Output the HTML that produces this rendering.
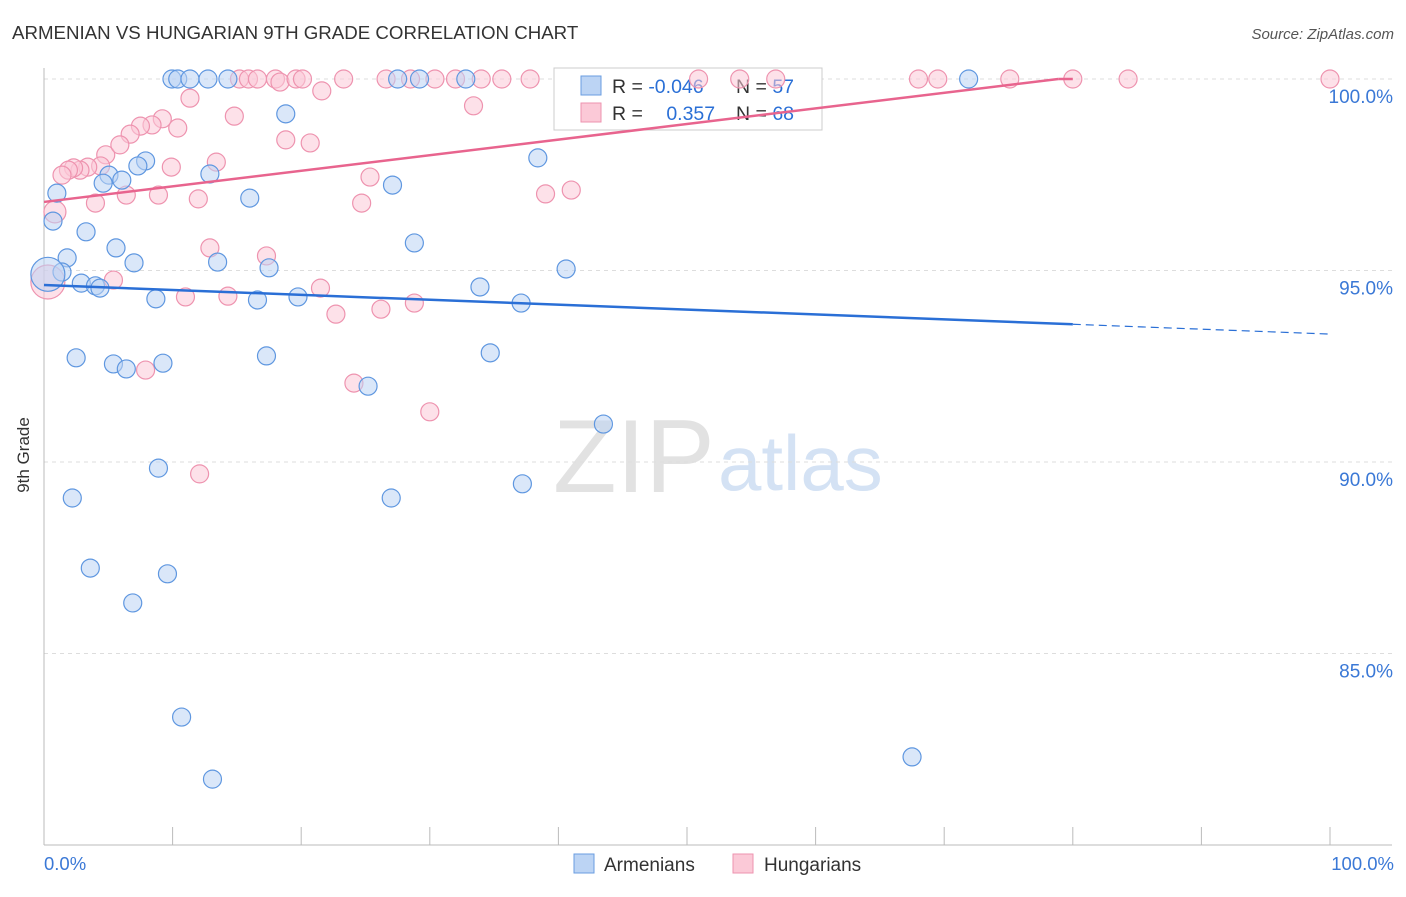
<!DOCTYPE html>
<html><head><meta charset="utf-8">
<style>
body{margin:0;background:#fff;font-family:"Liberation Sans",sans-serif;}
svg text{font-family:"Liberation Sans",sans-serif;}
</style></head>
<body>
<svg id="chart" width="1406" height="892" xmlns="http://www.w3.org/2000/svg">
<text x="12" y="39" font-size="18.7" fill="#333">ARMENIAN VS HUNGARIAN 9TH GRADE CORRELATION CHART</text>
<text x="1394" y="39" font-size="15" fill="#555" font-style="italic" text-anchor="end">Source: ZipAtlas.com</text>
<text x="29" y="455" font-size="17" fill="#333" transform="rotate(-90 29 455)" text-anchor="middle">9th Grade</text>
<text x="553" y="492" font-size="104" fill="#e2e2e2" font-family="Liberation Serif">ZIP</text>
<text x="718" y="490" font-size="78" fill="#d4e2f4">atlas</text>
<g id="grid"></g><g id="axes"></g>
<g>
<rect x="554" y="68" width="268" height="62" fill="#fff" stroke="#ccc"/>
<rect x="581" y="76" width="20" height="19" fill="#bcd4f4" stroke="#6a9de0"/>
<rect x="581" y="103" width="20" height="19" fill="#fbc9d7" stroke="#ee93af"/>
<text x="612" y="93" font-size="19.5" fill="#333">R = <tspan fill="#2a6fd6">-0.046</tspan></text>
<text x="736" y="93" font-size="19.5" fill="#333">N = <tspan fill="#2a6fd6">57</tspan></text>
<text x="612" y="120" font-size="19.5" fill="#333">R = <tspan fill="#2a6fd6" dx="18">0.357</tspan></text>
<text x="736" y="120" font-size="19.5" fill="#333">N = <tspan fill="#2a6fd6">68</tspan></text>
</g>
<g id="pts"></g><g id="lines"></g>
<g>
<rect x="574" y="854" width="20" height="19" fill="#bcd4f4" stroke="#6a9de0"/>
<text x="604" y="871" font-size="19" fill="#333">Armenians</text>
<rect x="733" y="854" width="20" height="19" fill="#fbc9d7" stroke="#ee93af"/>
<text x="764" y="871" font-size="19" fill="#333">Hungarians</text>
</g>
</svg>
<script>
const blueX=[9.95,10.4,11.35,12.75,14.3,27.5,29.2,32.8,71.9,18.8,38.4,7.9,7.3,5.05,4.6,6.05,12.9,27.1,1.0,16.0,0.7,3.27,5.6,28.8,1.8,7.0,13.5,17.5,40.6,1.4,2.9,4.0,4.35,33.9,8.7,16.6,19.75,37.1,2.5,5.4,6.4,9.25,17.3,34.7,25.2,43.5,8.9,2.2,27.0,37.2,3.6,9.6,6.9,10.7,13.1,67.5,0.3];
const blueY=[100,100,100,100,100,100,100,100,100,99.09,97.94,97.86,97.73,97.49,97.28,97.36,97.52,97.23,97.02,96.89,96.29,96.01,95.59,95.72,95.33,95.2,95.22,95.07,95.04,94.96,94.67,94.6,94.54,94.57,94.26,94.23,94.31,94.15,92.72,92.56,92.43,92.58,92.77,92.85,91.98,90.99,89.84,89.06,89.06,89.43,87.23,87.08,86.32,83.34,81.72,82.3,94.9];
const pinkX=[15.2,15.9,16.6,18.0,18.35,19.6,20.1,23.3,26.6,28.5,30.4,32.0,34.0,35.6,37.8,50.9,54.1,56.9,68.0,69.5,75.1,80.0,84.3,100,11.35,21.6,33.4,14.8,9.2,8.4,7.5,6.7,10.4,18.8,20.7,4.8,5.9,13.4,9.9,4.4,3.4,2.8,2.3,1.9,1.4,25.35,41.0,39.0,6.4,8.9,12.0,4.0,24.7,0.85,12.9,17.3,5.4,11.0,14.3,21.5,22.7,26.2,28.8,7.9,24.1,30.0,12.1,0.3];
const pinkY=[100,100,100,100,99.92,100,100,100,100,100,100,100,100,100,100,100,100,100,100,100,100,100,100,100,99.5,99.69,99.3,99.03,98.96,98.8,98.77,98.56,98.72,98.41,98.33,98.02,98.28,97.83,97.7,97.73,97.7,97.62,97.68,97.62,97.49,97.44,97.1,97.0,96.97,96.97,96.87,96.76,96.76,96.53,95.59,95.38,94.75,94.31,94.33,94.54,93.86,93.99,94.15,92.4,92.06,91.31,89.69,94.7];
const yTicks=[100,95,90,85];
const yTickLabels=["100.0%","95.0%","90.0%","85.0%"];
const blueTrend=[94.62,93.34];
const pinkTrend=[96.79,100.86];
const NS="http://www.w3.org/2000/svg";
const sx=v=>44+v*12.86;
const sy=v=>79+(100-v)*38.3;
function mk(tag,attrs,parent){const e=document.createElementNS(NS,tag);for(const k in attrs)e.setAttribute(k,attrs[k]);parent.appendChild(e);return e;}
const grid=document.getElementById('grid'),axes=document.getElementById('axes'),pts=document.getElementById('pts'),lines=document.getElementById('lines');
yTicks.forEach((t,i)=>{
 const l=mk('line',{x1:44,x2:1392,y1:sy(t),y2:sy(t),stroke:'#ddd','stroke-dasharray':'4,4'},grid);
 
 
 const tx=mk('text',{x:1393,y:sy(t)+24,'font-size':19,fill:'#3a78d6','text-anchor':'end'},grid);
 tx.textContent=yTickLabels[i];
 
 
});
const ax=mk('line',{x1:44,x2:1392,y1:845,y2:845,stroke:'#bbb'},axes);


const ay=mk('line',{x1:44,x2:44,y1:68,y2:845,stroke:'#bbb'},axes);


for(let i=0;i<=10;i++){const t=mk('line',{x1:sx(i*10),x2:sx(i*10),y1:827,y2:845,stroke:'#bbb'},axes);
 
 }
const x0=mk('text',{x:44,y:870,'font-size':18.5,fill:'#3a78d6'},axes);x0.textContent='0.0%';


const x1=mk('text',{x:1394,y:870,'font-size':18.5,fill:'#3a78d6','text-anchor':'end'},axes);x1.textContent='100.0%';


function dots(X,Y,fill,stroke,name){X.forEach((x,i)=>{
 const big=(x<1&&(i===X.length-1||Math.abs(Y[i]-96.53)<0.01));
 const c=mk('circle',{cx:sx(x),cy:sy(Y[i]),r:big?(i===X.length-1?17:11):9,fill:fill,'fill-opacity':0.55,stroke:stroke,'stroke-width':1.2},pts);
 
 
});}
dots(pinkX,pinkY,'#fbc9d7','#ee93af','hungarian-point');
dots(blueX,blueY,'#bcd4f4','#5f97e0','armenian-point');
const by=x=>blueTrend[0]+(blueTrend[1]-blueTrend[0])*x/100;
const bl=mk('line',{x1:sx(0),y1:sy(by(0)),x2:sx(80),y2:sy(by(80)),stroke:'#2a6fd6','stroke-width':2.5},lines);


const bd=mk('line',{x1:sx(80),y1:sy(by(80)),x2:sx(100),y2:sy(by(100)),stroke:'#2a6fd6','stroke-width':1.2,'stroke-dasharray':'8,5'},lines);


const py=x=>pinkTrend[0]+(pinkTrend[1]-pinkTrend[0])*x/100;
const xEnd=(100-pinkTrend[0])/(pinkTrend[1]-pinkTrend[0])*100;
const pl=mk('line',{x1:sx(0),y1:sy(py(0)),x2:sx(xEnd),y2:sy(100),stroke:'#e8648e','stroke-width':2.5},lines);


const pl2=mk('line',{x1:sx(xEnd),y1:sy(100),x2:sx(80),y2:sy(100),stroke:'#e8648e','stroke-width':2.5},lines);


</script>
</body></html>
